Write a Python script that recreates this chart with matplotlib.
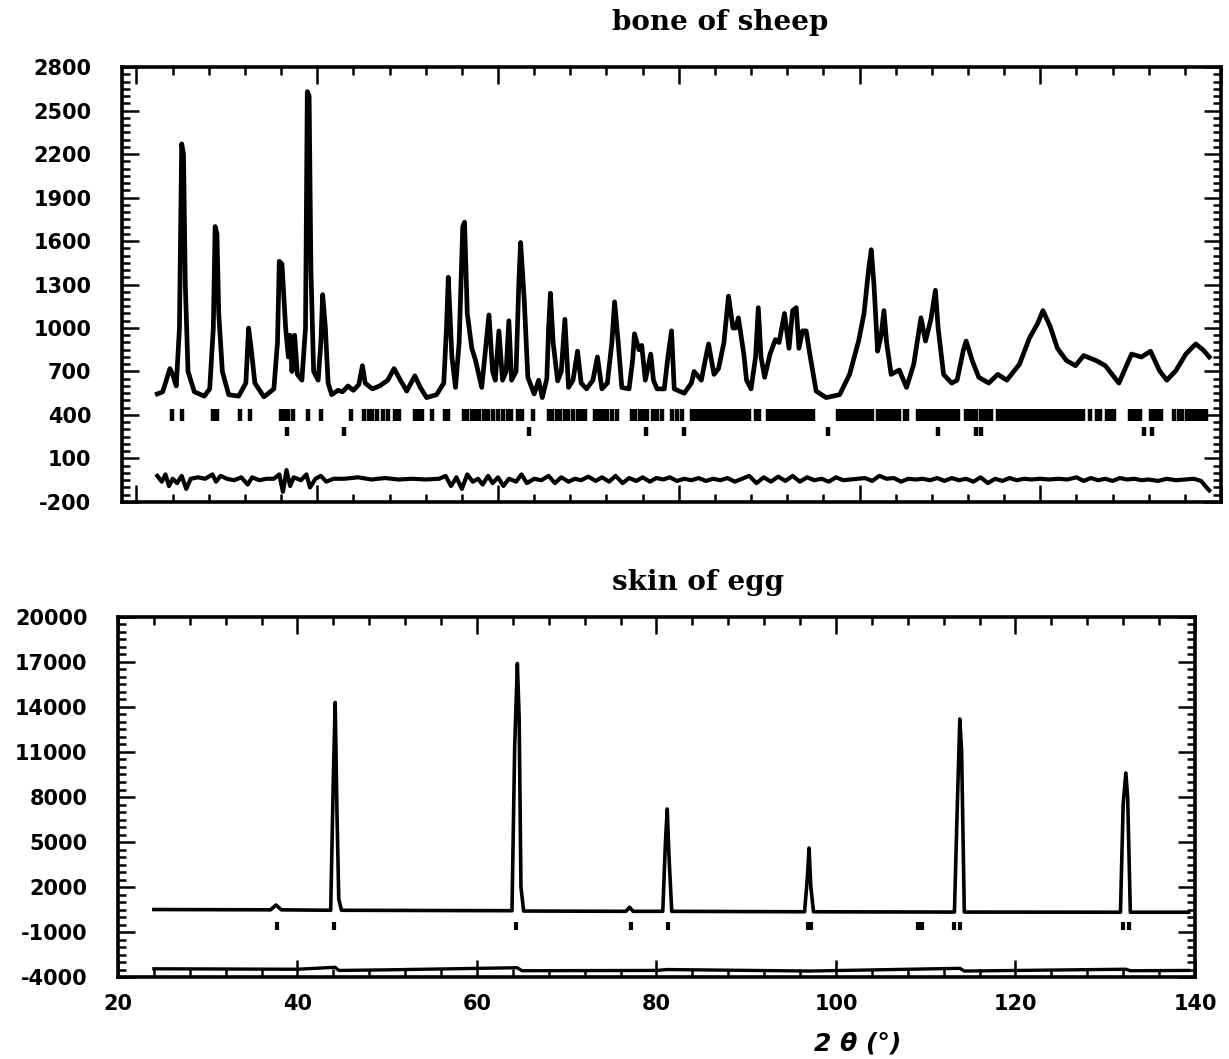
import matplotlib
matplotlib.use("Agg")
import matplotlib.pyplot as plt
from matplotlib.ticker import MultipleLocator
from matplotlib.font_manager import FontProperties

plt.rcParams["axes.unicode_minus"] = False

# ---- bone of sheep: observed/calculated profile (2theta, counts) ----
sheep_x = [22.3, 22.9, 23.3, 23.7, 24.0, 24.4, 24.75, 25.0, 25.2, 25.4,
           25.7, 26.4, 27.5, 28.1, 28.5, 28.7, 28.9, 29.1, 29.5, 30.2,
           31.3, 32.1, 32.4, 32.7, 33.1, 34.1, 35.2, 35.6, 35.8, 36.1,
           36.5, 36.8, 37.0, 37.2, 37.5, 37.8, 38.3, 38.7, 38.9, 39.1,
           39.3, 39.6, 40.1, 40.4, 40.6, 40.9, 41.2, 41.6, 42.3, 42.8,
           43.4, 44.0, 44.6, 45.0, 45.3, 46.1, 46.9, 47.8, 48.5, 49.2,
           49.9, 50.8, 51.4, 52.1, 53.2, 54.0, 54.3, 54.5, 54.9, 55.3,
           55.7, 56.1, 56.3, 56.6, 57.1, 57.5, 58.2, 58.7, 59.0, 59.4,
           59.7, 60.1, 60.5, 60.9, 61.2, 61.5, 62.0, 62.3, 62.5, 62.9,
           63.3, 64.0, 64.5, 64.9, 65.4, 65.6, 65.8, 66.1, 66.6, 67.0,
           67.4, 67.8, 68.3, 68.8, 69.2, 69.8, 70.5, 71.0, 71.5, 72.1,
           72.6, 72.9, 73.3, 73.7, 74.5, 74.9, 75.1, 75.6, 75.9, 76.3,
           76.9, 77.2, 77.6, 78.4, 78.8, 79.2, 79.5, 80.6, 81.4, 81.7,
           82.5, 83.0, 83.3, 83.9, 84.4, 85.0, 85.5, 86.0, 86.3, 86.6,
           87.2, 87.5, 88.0, 88.5, 88.8, 89.1, 89.5, 90.1, 90.7, 91.1,
           91.7, 92.2, 92.6, 93.0, 93.3, 93.7, 94.1, 94.5, 95.2, 96.3,
           97.8, 98.9, 99.9, 100.5, 101.0, 101.3, 101.6, 102.0, 102.4, 102.7,
           103.0, 103.5, 104.4, 105.2, 106.0, 106.8, 107.3, 107.9, 108.4, 108.7,
           109.3, 110.2, 110.8, 111.5, 111.8, 112.5, 113.2, 114.3, 115.3, 116.3,
           117.7, 118.8, 119.7, 120.3, 121.1, 121.9, 122.9, 123.9, 124.8, 126.2,
           127.2, 128.7, 130.1, 131.2, 132.2, 133.2, 134.0, 135.0, 136.1, 137.2,
           138.0, 138.7]
sheep_y = [545, 560, 640, 720, 680, 600, 1000, 2270, 2200, 1300,
           700, 560, 530, 580, 1000, 1700, 1650, 1100, 700, 540,
           530, 620, 1000, 850, 620, 525, 580, 900, 1460, 1440,
           1000, 800, 950, 700, 950, 680, 640, 1000, 2630, 2600,
           1400, 700, 640, 900, 1230, 1000, 620, 540, 570, 560,
           600, 570, 610, 740, 620, 580, 600, 640, 720, 640,
           565, 670, 590, 520, 540, 620, 1000, 1350, 800, 590,
           900, 1700, 1730, 1100, 860, 780, 590, 900, 1090, 700,
           640, 980, 640, 700, 1050, 640, 700, 1300, 1590, 1200,
           660, 545, 640, 520, 650, 1000, 1240, 900, 635, 700,
           1060, 590, 640, 840, 620, 580, 640, 800, 580, 620,
           900, 1180, 900, 590, 580, 780, 960, 850, 880, 640,
           820, 640, 580, 580, 800, 980, 580, 550, 620, 700,
           640, 800, 890, 680, 720, 900, 1220, 1000, 1000, 1070,
           820, 640, 580, 800, 1140, 800, 660, 820, 920, 900,
           1100, 860, 1120, 1140, 860, 980, 980, 820, 565, 520,
           540, 680, 910, 1100, 1400, 1540, 1300, 840, 950, 1120,
           900, 680, 710, 590, 750, 1070, 910, 1060, 1260, 1000,
           680, 620, 640, 850, 910, 770, 660, 620, 680, 640,
           750, 930, 1030, 1120, 1010, 860, 775, 740, 810, 775,
           740, 620, 820, 800, 840, 705, 640, 705, 820, 890,
           850, 800]

# difference curve (obs - calc)
sheep_diff_x = [22.3, 22.8, 23.2, 23.6, 24.0, 24.5, 25.0, 25.5, 26.0, 26.8,
                27.6, 28.4, 28.8, 29.3, 30.0, 30.8, 31.6, 32.3, 32.8, 33.6,
                34.4, 35.2, 35.8, 36.2, 36.6, 37.0, 37.4, 38.2, 38.8, 39.2,
                39.8, 40.4, 41.0, 41.8, 43.0, 44.5, 46.0, 47.5, 49.0, 50.5,
                52.0, 53.5, 54.2, 54.8, 55.4, 56.0, 56.6, 57.2, 57.8, 58.3,
                58.9, 59.4, 60.0, 60.6, 61.2, 62.0, 62.6, 63.2, 64.0, 64.8,
                65.6, 66.3, 67.0, 67.8, 68.5, 69.2, 70.0, 70.8, 71.5, 72.3,
                73.0, 73.8, 74.5, 75.3, 76.0, 76.8, 77.5, 78.3, 79.0, 79.8,
                80.6, 81.4, 82.2, 83.0, 83.8, 84.6, 85.4, 86.2, 87.0, 87.8,
                88.6, 89.4, 90.2, 91.0, 91.8, 92.6, 93.4, 94.2, 95.0, 95.8,
                96.6, 97.4, 98.2, 99.0, 99.8, 100.6, 101.4, 102.2, 103.0, 103.8,
                104.6, 105.4, 106.2, 107.0, 107.8, 108.6, 109.4, 110.2, 111.0, 111.8,
                112.6, 113.4, 114.2, 115.0, 115.8, 116.6, 117.4, 118.2, 119.0, 120.0,
                121.0, 122.0, 123.0, 124.0, 124.8, 125.6, 126.4, 127.2, 128.0, 128.8,
                129.6, 130.4, 131.2, 132.0, 133.0, 134.0, 135.0, 136.0, 137.0, 137.8,
                138.4, 138.7]
sheep_diff_y = [-20, -60, -10, -90, -40, -70, -20, -110, -40, -30,
                -40, -10, -60, -20, -40, -50, -30, -80, -30, -50,
                -40, -40, -10, -130, 20, -90, -30, -50, -10, -100,
                -40, -20, -60, -40, -40, -30, -45, -35, -45, -40,
                -45, -40, -20, -90, -30, -110, -10, -60, -40, -80,
                -20, -70, -30, -90, -40, -60, -10, -70, -40, -50,
                -20, -70, -30, -60, -40, -50, -25, -55, -30, -60,
                -20, -70, -35, -55, -30, -60, -35, -45, -30, -55,
                -40, -50, -35, -55, -40, -50, -35, -60, -40, -20,
                -70, -30, -60, -25, -55, -20, -60, -30, -50, -40,
                -60, -30, -50, -45, -40, -35, -55, -20, -40, -35,
                -60, -40, -45, -40, -50, -35, -55, -35, -50, -40,
                -60, -30, -70, -40, -55, -35, -50, -40, -45, -40,
                -45, -40, -45, -30, -55, -35, -50, -40, -55, -35,
                -45, -40, -50, -45, -55, -40, -50, -45, -40, -55,
                -100, -120]

# Bragg reflection positions (two phases)
sheep_hkl_1 = [23.9, 25.0, 28.5, 28.9, 31.5, 32.6, 36.0, 36.3, 36.8, 37.3,
               39.0, 40.4, 43.7, 45.2, 45.7, 46.1, 46.6, 47.3, 47.8, 48.6,
               49.1, 50.8, 51.25, 51.6, 52.7, 54.1, 54.5, 56.2, 56.6, 57.1,
               57.5, 57.9, 58.5, 58.9, 59.5, 60.0, 60.5, 61.1, 61.4, 62.2,
               62.6, 63.9, 65.6, 66.0, 66.5, 66.9, 67.4, 67.8, 68.3, 68.8,
               69.2, 69.6, 70.7, 71.2, 71.6, 72.1, 72.6, 73.2, 74.8, 75.2,
               75.7, 76.1, 76.5, 77.1, 77.6, 78.1, 79.2, 79.8, 80.4, 81.5,
               81.9, 82.2, 82.6, 82.9, 83.3, 83.6, 84.0, 84.3, 84.7, 85.0,
               85.4, 85.7, 86.1, 86.4, 86.8, 87.1, 87.5, 87.8, 88.5, 88.9,
               89.9, 90.3, 90.6, 91.0, 91.3, 91.7, 92.0, 92.4, 92.7, 93.1,
               93.4, 93.8, 94.1, 94.5, 94.8, 97.6, 98.0, 98.3, 98.7, 99.0,
               99.4, 99.7, 100.1, 100.4, 100.8, 101.1, 101.4, 102.0, 102.3, 102.7,
               103.0, 103.4, 103.7, 104.0, 104.4, 105.0, 105.2, 106.5, 106.9, 107.2,
               107.6, 107.9, 108.3, 108.7, 109.1, 109.4, 109.8, 110.2, 110.6, 110.9,
               111.8, 112.2, 112.6, 112.9, 113.4, 113.8, 114.1, 114.5, 115.3, 115.7,
               116.0, 116.4, 116.7, 116.9, 117.3, 117.6, 118.0, 118.3, 118.7, 119.0,
               119.4, 119.7, 120.1, 120.4, 120.8, 121.1, 121.5, 121.8, 122.2, 122.5,
               122.9, 123.3, 123.7, 124.1, 124.4, 124.7, 125.5, 126.3, 126.6, 127.4,
               127.8, 128.2, 129.9, 130.3, 130.6, 131.0, 132.3, 132.7, 133.0, 133.4,
               134.8, 135.3, 135.7, 136.2, 136.4, 136.8, 137.1, 137.5, 137.9, 138.3]
sheep_hkl_2 = [36.6, 43.0, 63.4, 76.4, 80.6, 96.5, 108.7, 112.9, 113.4, 131.5, 132.4]

# ---- skin of egg ----
egg_x = [24.0, 37.0, 37.6, 38.2, 43.7, 44.0, 44.2, 44.4, 44.6, 44.9,
         63.9, 64.2, 64.5, 64.7, 64.9, 65.2, 76.6, 77.0, 77.4, 80.7,
         81.0, 81.2, 81.4, 81.7, 96.5, 96.8, 97.0, 97.2, 97.5, 113.2,
         113.5, 113.8, 114.0, 114.3, 131.7, 132.0, 132.3, 132.5, 132.8, 139.3]
egg_y = [500, 480, 800, 480, 450, 9400, 14300, 7000, 1200, 450,
         420, 11300, 16900, 13300, 2000, 400, 380, 650, 380, 380,
         5000, 7200, 4000, 380, 350, 2500, 4600, 2000, 350, 330,
         7000, 13200, 11000, 330, 320, 7500, 9600, 8000, 320, 320]
egg_diff_x = [24.0, 40.0, 44.2, 44.6, 50.0, 64.5, 65.0, 80.0, 81.2, 97.0,
              113.8, 114.3, 132.3, 132.8, 139.3]
egg_diff_y = [-3450, -3480, -3350, -3560, -3520, -3380, -3580, -3560, -3500, -3600,
              -3420, -3600, -3480, -3580, -3560]
egg_hkl = [37.7, 44.1, 64.4, 77.2, 81.3, 96.9, 97.2, 109.1, 109.6, 113.2,
           113.8, 132.0, 132.7]

sheep_yticks = list(range(-200, 2801, 300))
egg_yticks = list(range(-4000, 20001, 3000))
x_ticks = [20, 40, 60, 80, 100, 120, 140]

tick_font = FontProperties(family="DejaVu Sans", weight="bold", size=15)


def style_axes(ax):
    for s in ax.spines.values():
        s.set_linewidth(2.6)
    ax.tick_params(which="both", direction="in", top=True, right=True,
                   width=1.8, colors="black")
    ax.tick_params(which="major", length=12, pad=22)
    ax.tick_params(which="minor", length=6)
    ax.tick_params(axis="x", pad=12)
    ax.xaxis.set_minor_locator(MultipleLocator(4))
    for lab in ax.get_xticklabels() + ax.get_yticklabels():
        lab.set_fontproperties(tick_font)


fig = plt.figure(figsize=(12.29, 10.59), dpi=100)

# top panel
ax1 = fig.add_axes([0.0993, 0.526, 0.8942, 0.4107])
ax1.plot(sheep_x, sheep_y, color="black", lw=3.4, solid_joinstyle="round")
ax1.plot(sheep_diff_x, sheep_diff_y, color="black", lw=3.0)
ax1.vlines(sheep_hkl_1, 360, 440, color="black", lw=3.2)
ax1.vlines(sheep_hkl_2, 255, 320, color="black", lw=3.2)
ax1.set_xlim(18.4, 138.7)
ax1.set_ylim(-200, 2800)
ax1.set_xticks(x_ticks)
ax1.set_yticks(sheep_yticks)
ax1.yaxis.set_minor_locator(MultipleLocator(50))
ax1.tick_params(labelbottom=False)
style_axes(ax1)

# bottom panel
ax2 = fig.add_axes([0.096, 0.0774, 0.8763, 0.34])
ax2.plot(egg_x, egg_y, color="black", lw=2.6, solid_joinstyle="round")
ax2.plot(egg_diff_x, egg_diff_y, color="black", lw=2.4)
ax2.vlines(egg_hkl, -870, -330, color="black", lw=3.0)
ax2.set_xlim(20, 140)
ax2.set_ylim(-4000, 20000)
ax2.set_xticks(x_ticks)
ax2.set_yticks(egg_yticks)
ax2.yaxis.set_minor_locator(MultipleLocator(500))
style_axes(ax2)

fig.text(0.586, 0.979, "bone of sheep", ha="center", va="center",
         family="DejaVu Serif", weight="bold", size=20)
fig.text(0.568, 0.4495, "skin of egg", ha="center", va="center",
         family="DejaVu Serif", weight="bold", size=20)
fig.text(0.698, 0.015, "2 θ (°)", ha="center", va="center",
         family="DejaVu Sans", weight="bold", style="italic", size=18)

fig.savefig("out.png", dpi=100)
